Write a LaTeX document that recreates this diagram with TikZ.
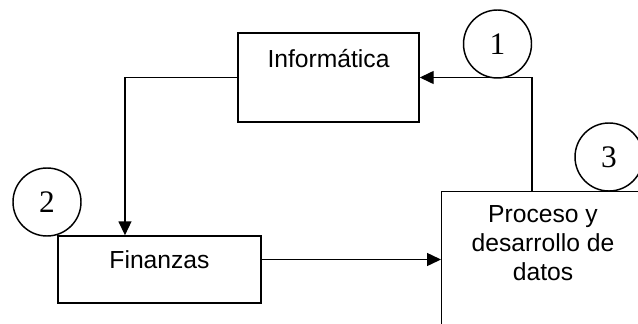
\documentclass[tikz,border=0pt]{standalone}
\usepackage{fontspec}
\setmainfont{Liberation Sans}
\newfontfamily\numfont{Liberation Serif}
\usetikzlibrary{arrows.meta}
\begin{document}
\begin{tikzpicture}[x=0.75pt,y=-0.75pt,
  line width=1.1pt,
  box/.style={draw,inner sep=0pt},
  lbl/.style={font=\fontsize{18.5pt}{21.5pt}\selectfont,align=center,inner sep=0pt},
  num/.style={draw,circle,minimum size=51pt,inner sep=0pt,font=\numfont\fontsize{23.5pt}{25pt}\selectfont},
  flow/.style={-{Triangle[length=10.5pt,width=9.75pt]}}]
\useasboundingbox (0,0) rectangle (638,324);
\clip (0,0) rectangle (638,324);

% boxes
\node[box,minimum width=135.75pt,minimum height=66.75pt] (info) at (328.5,77.5) {};
\node[lbl] (infot) at (328.5,59) {Informática};

\node[box,minimum width=152.25pt,minimum height=50.25pt] (fin) at (159.5,269.5) {};
\node[lbl] (fint) at (159.5,259.5) {Finanzas};

\node[box,minimum width=153pt,minimum height=112.5pt,anchor=north west] (proc) at (441,191) {};
\node[lbl] (proct) at (543,243) {Proceso y\\desarrollo de\\datos};

% numbered circles
\node[num] (c1) at (497.5,44) {1};
\node[num] (c2) at (47,202) {2};
\node[num] (c3) at (609,157) {3};

% connectors
\draw[flow] (info.west) -| ([xshift=-25.9pt]fin.north);
\draw[flow] ([yshift=7.5pt]fin.east) -- ([yshift=7.5pt]fin.east -| proc.west);
\draw[flow] ([xshift=68.25pt]proc.north west) |- (info.east);
\end{tikzpicture}
\end{document}
